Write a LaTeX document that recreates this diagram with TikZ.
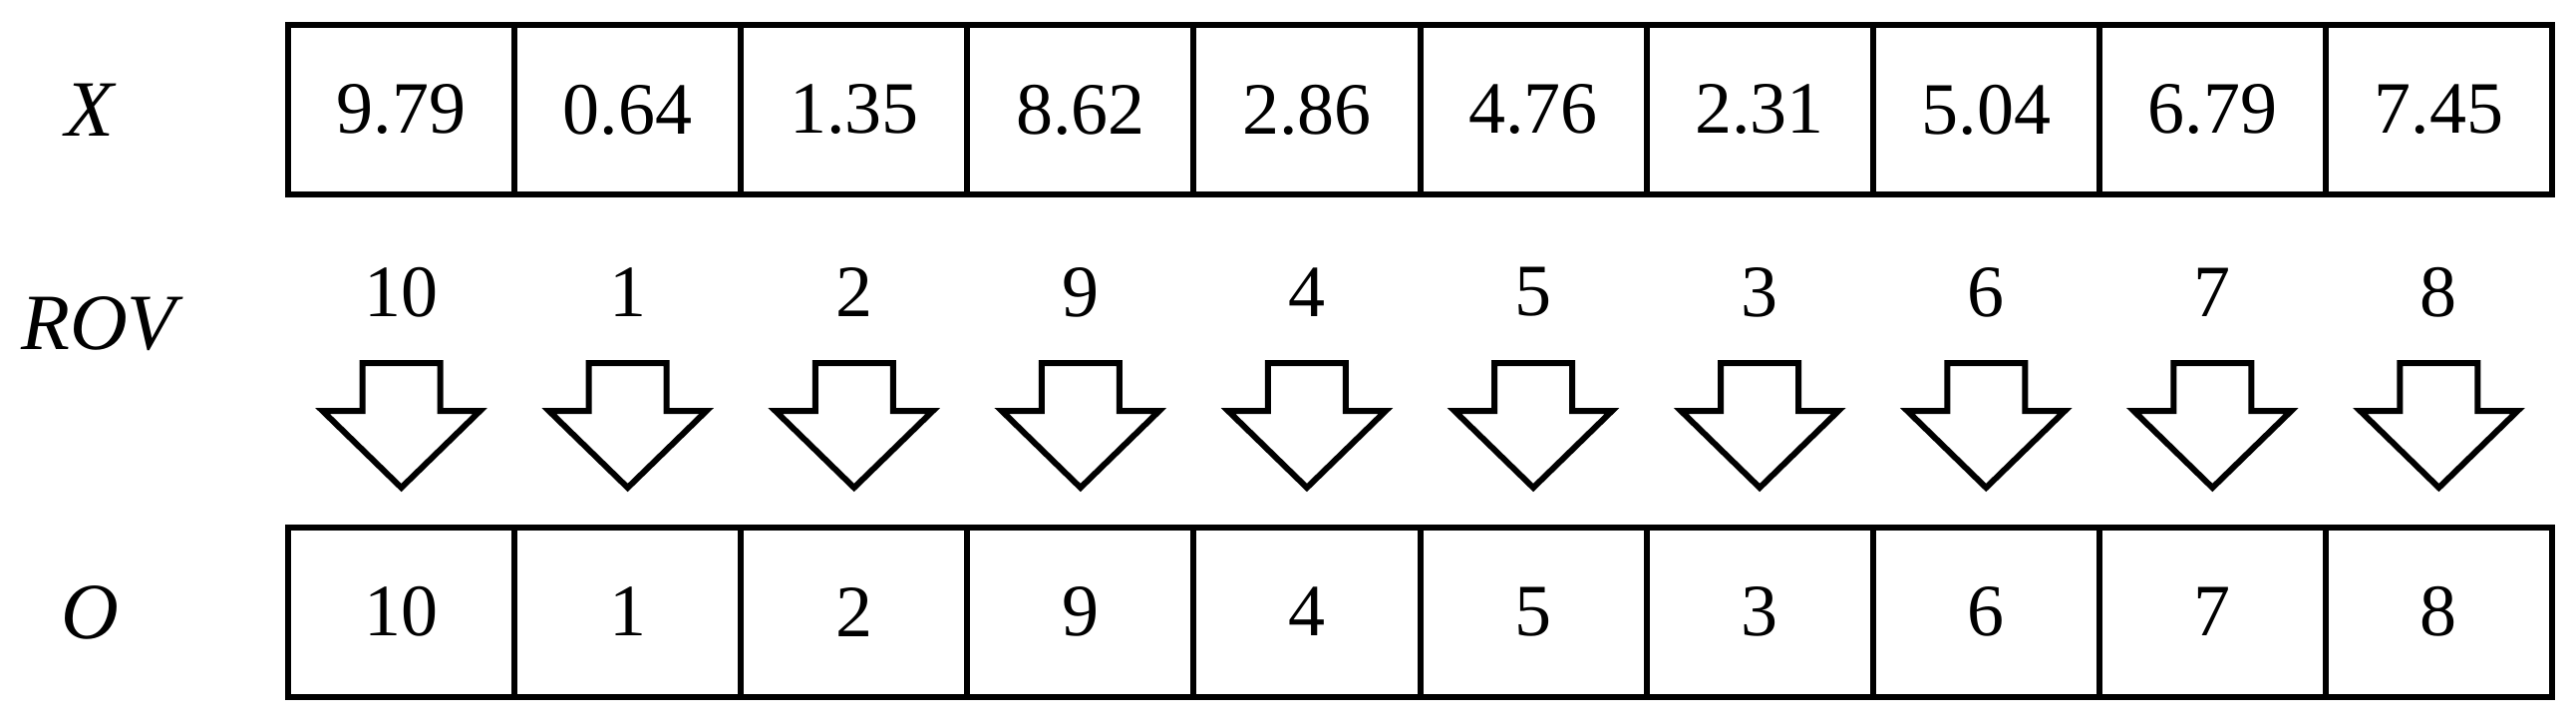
\documentclass[tikz,border=0pt]{standalone}
\usepackage{fontspec}
\setmainfont{Liberation Serif}
\begin{document}
\begin{tikzpicture}[x=0.25pt,y=-0.25pt,
  cell/.style={draw,line width=1.5pt,minimum width=56.775pt,minimum height=42.5pt,inner sep=0pt,font=\fontsize{18.5}{21}\selectfont},
  num/.style={inner sep=0pt,font=\fontsize{18.5}{21}\selectfont},
  lab/.style={inner sep=0pt,font=\fontsize{20}{24}\selectfont\itshape},
  blockarrow/.style={draw,line width=1.5pt,line join=miter}]
\useasboundingbox (0,0) rectangle (2584,728);
\node[lab] (lx) at (90,110) {X};
\node[lab] (lrov) at (99,325) {ROV};
\node[lab] (lo) at (90,614) {O};
\foreach \v/\r [count=\i] in {9.79/10,0.64/1,1.35/2,8.62/9,2.86/4,4.76/5,2.31/3,5.04/6,6.79/7,7.45/8}{
  \node[cell] (x\i) at ({289+227.1*(\i-0.5)},110) {\v};
  \node[num] (r\i) at ({289+227.1*(\i-0.5)},293) {\r};
  \node[cell] (o\i) at ({289+227.1*(\i-0.5)},613.5) {\r};
  \coordinate (c\i) at ({289+227.1*(\i-0.5)},364);
  \draw[blockarrow] (c\i) ++(-39,0) -- ++(0,48) -- ++(-40,0) -- ++(79,77) -- ++(79,-77) -- ++(-40,0) -- ++(0,-48) -- cycle;
}
\end{tikzpicture}
\end{document}
